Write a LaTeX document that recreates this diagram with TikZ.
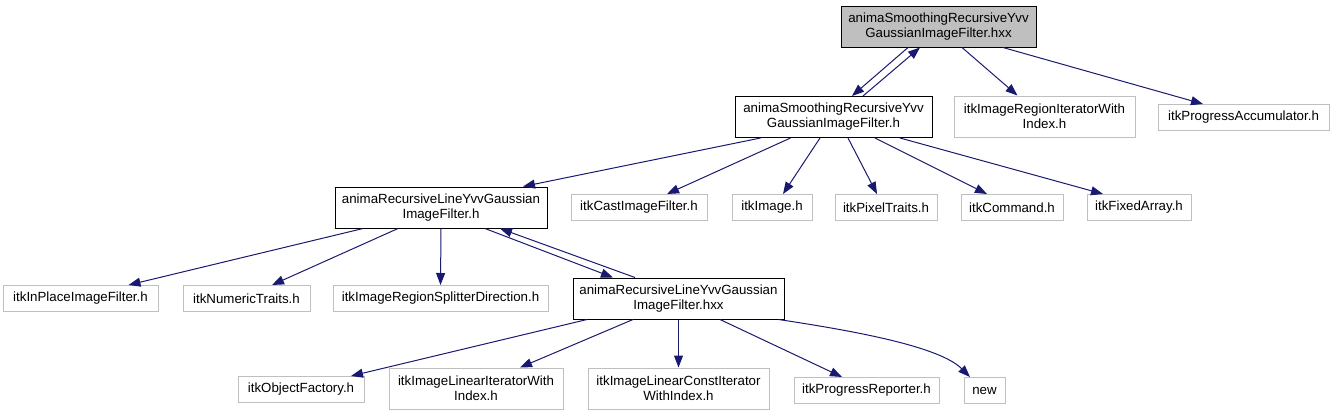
\documentclass[tikz,border=0pt]{standalone}
\usepackage{fontspec}
\setmainfont{Liberation Sans}
\usetikzlibrary{arrows.meta}
\definecolor{edgeblue}{HTML}{191970}
\definecolor{boxgray}{HTML}{BFBFBF}
\begin{document}
\begin{tikzpicture}[x=1pt,y=-1pt,
  box/.style={draw=black, line width=1pt, inner sep=0pt, minimum height=41pt, align=center,
    font=\fontsize{13.3}{15}\selectfont},
  ext/.style={box, draw=boxgray},
  one/.style={minimum height=26pt},
  edge/.style={draw=edgeblue, line width=1pt, -{Triangle[length=12pt,width=9pt]}}]
\useasboundingbox (0,0) rectangle (1333,416);
% row 1
\node[box, fill=boxgray, minimum width=195pt] (top) at (938.5,26.5) {animaSmoothingRecursiveYvv\\GaussianImageFilter.hxx};
% row 2
\node[box, minimum width=197pt] (sh) at (833.5,117) {animaSmoothingRecursiveYvv\\GaussianImageFilter.h};
\node[ext, minimum width=181pt] (iri) at (1044.5,116.5) {itkImageRegionIteratorWith\\Index.h};
\node[ext, one, minimum width=171pt] (pa) at (1243.5,117.5) {itkProgressAccumulator.h};
% row 3
\node[box, minimum width=212pt] (rl) at (441,207.5) {animaRecursiveLineYvvGaussian\\ImageFilter.h};
\node[ext, one, minimum width=136pt] (cast) at (639,207.5) {itkCastImageFilter.h};
\node[ext, one, minimum width=80pt] (image) at (772,207.5) {itkImage.h};
\node[ext, one, minimum width=102pt] (pixel) at (886,207.5) {itkPixelTraits.h};
\node[ext, one, minimum width=102pt] (cmd) at (1012,207.5) {itkCommand.h};
\node[ext, one, minimum width=104pt] (fixed) at (1139,207.5) {itkFixedArray.h};
% row 4
\node[ext, one, minimum width=155pt] (inplace) at (80.5,298.5) {itkInPlaceImageFilter.h};
\node[ext, one, minimum width=127pt] (numeric) at (246.5,298.5) {itkNumericTraits.h};
\node[ext, one, minimum width=215pt] (splitter) at (440.5,298.5) {itkImageRegionSplitterDirection.h};
\node[box, minimum width=211pt] (rlhxx) at (678.5,298.5) {animaRecursiveLineYvvGaussian\\ImageFilter.hxx};
% row 5
\node[ext, one, minimum width=126pt] (objf) at (301,389.5) {itkObjectFactory.h};
\node[ext, minimum width=174pt] (lin) at (476,388.5) {itkImageLinearIteratorWith\\Index.h};
\node[ext, minimum width=181pt] (linc) at (678.5,388.5) {itkImageLinearConstIterator\\WithIndex.h};
\node[ext, one, minimum width=145pt] (prog) at (866.5,390.5) {itkProgressReporter.h};
\node[ext, one, minimum width=41pt] (new) at (984.5,390.5) {new};
% edges from top
\draw[edge] ([xshift=-30.5]top.south) -- ([xshift=18.5]sh.north);
\draw[edge] ([xshift=29.5]sh.north) -- ([xshift=-18.5]top.south);
\draw[edge] ([xshift=23.5]top.south) -- ([xshift=-27]iri.north);
\draw[edge] ([xshift=64.5]top.south) -- ([xshift=-40.5]pa.north);
% edges from sh
\draw[edge] ([xshift=-73]sh.south) -- ([xshift=82]rl.north);
\draw[edge] ([xshift=-43]sh.south) -- ([xshift=28]cast.north);
\draw[edge] ([xshift=-13.5]sh.south) -- ([xshift=11]image.north);
\draw[edge] ([xshift=14.5]sh.south) -- ([xshift=-9]pixel.north);
\draw[edge] ([xshift=41.5]sh.south) -- ([xshift=-25]cmd.north);
\draw[edge] ([xshift=66.5]sh.south) -- ([xshift=-36]fixed.north);
% edges from rl
\draw[edge] ([xshift=-78]rl.south) -- ([xshift=48]inplace.north);
\draw[edge] ([xshift=-43]rl.south) -- ([xshift=25.5]numeric.north);
\draw[edge] (rl.south) -- (splitter.north);
\draw[edge] ([xshift=44]rl.south) -- ([xshift=-65.5]rlhxx.north);
\draw[edge] ([xshift=-43.5]rlhxx.north) -- ([xshift=59]rl.south);
% edges from rlhxx
\draw[edge] ([xshift=-91.5]rlhxx.south) -- ([xshift=50]objf.north);
\draw[edge] ([xshift=-45.5]rlhxx.south) -- ([xshift=44]lin.north);
\draw[edge] (rlhxx.south) -- (linc.north);
\draw[edge] ([xshift=41.5]rlhxx.south) -- ([xshift=-24.5]prog.north);
\draw[edge] ([xshift=-6]rlhxx.south east) .. controls +(80,12) and +(-30,-30) .. ([xshift=-14.5]new.north);
\end{tikzpicture}
\end{document}
